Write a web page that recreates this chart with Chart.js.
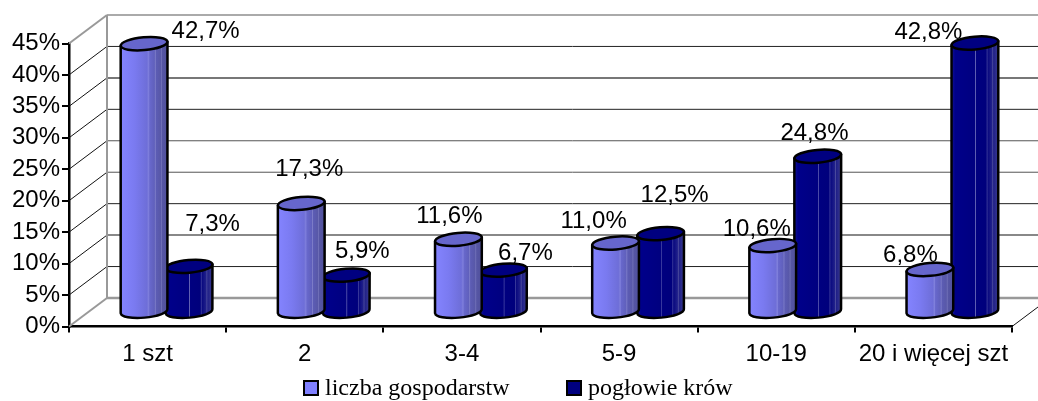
<!DOCTYPE html>
<html lang="pl">
<head>
<meta charset="utf-8">
<title>Gospodarstwa i pogłowie krów</title>
<script src="https://cdn.jsdelivr.net/npm/chart.js@4"></script>
<style>
  html, body { margin: 0; padding: 0; background: #fff; }
  canvas { display: block; }
</style>
</head>
<body>
<canvas id="chart" width="1038" height="401"></canvas>
<script>
// ── Data ──────────────────────────────────────────────────
const categories = ['1 szt', '2', '3-4', '5-9', '10-19', '20 i więcej szt'];
const gospodarstwa = [42.7, 17.3, 11.6, 11.0, 10.6, 6.8];
const krowy = [7.3, 5.9, 6.7, 12.5, 24.8, 42.8];
const seriesNames = ['liczba gospodarstw', 'pogłowie krów'];

// hand placed labels in the original, [dx, dy] from the top of each bar
const labelShift = [
  [[61.5, -13.7], [8, -35.4], [-9, -24.3], [-22, -23], [-16, -17.6], [-19.5, -15.5]],
  [[23.5, -43.3], [16, -25], [22, -17.4], [14, -39.6], [-3.3, -23.6], [-46.5, -11.3]]
];

// ── Style ─────────────────────────────────────────────────
const DEPTH_X = 38;
const DEPTH_Y = -28.5;
const TILT = -5 * Math.PI / 180;
const CAP_B = 6.4;
const SANS = '"Liberation Sans", Arial, sans-serif';
const SERIF = '"Liberation Serif", "Times New Roman", serif';

// wall line per tick, 0% upward
const wallColors = ['#999', '#222', '#888', '#222', '#555', '#555', '#222', '#777', '#222', '#aaa'];
const wallWidths = [2.5, 1, 2, 1, 1, 1, 1, 2, 1, 2];

const seriesLook = [
  {
    fill: '#8080ff',
    cap: '#6666cc',
    stops: [[0, '#8484ff'], [.3, '#7a7af0'], [.56, '#6e6ed8'], [.6, '#8080dc'], [.62, '#6868cc'],
            [.72, '#6060bc'], [.74, '#7c7cc8'], [.76, '#5c5cb4'], [.85, '#5858a8'], [.87, '#7070b8'],
            [.89, '#5656a4'], [1, '#50509c']]
  },
  {
    fill: '#000080',
    cap: '#000080',
    stops: [[0, '#141492'], [.08, '#00008a'], [.5, '#000080'], [.51, '#6a6ab8'], [.53, '#000080'],
            [.74, '#00007c'], [.76, '#3a3a9a'], [.78, '#0a0a80'], [.86, '#20208a'], [.88, '#4a4a9c'],
            [.9, '#202088'], [1, '#3c3c90']]
  }
];

// ── Plugins ───────────────────────────────────────────────
// back wall and side wall, placed from the y scale ticks
const wallsPlugin = {
  id: 'walls',
  beforeDatasetsDraw(chart) {
    const { ctx, chartArea: a, scales: { y } } = chart;
    ctx.save();
    y.ticks.forEach((t, i) => {
      const py = y.getPixelForValue(t.value);
      ctx.beginPath();
      ctx.lineWidth = wallWidths[i];
      ctx.strokeStyle = wallColors[i];
      ctx.moveTo(a.left + DEPTH_X, py + DEPTH_Y);
      ctx.lineTo(chart.width, py + DEPTH_Y);
      ctx.stroke();

      // diagonal on the side wall, grey on the floor and ceiling edges
      const edge = i === 0 || i === y.ticks.length - 1;
      ctx.beginPath();
      ctx.lineWidth = edge ? 2 : 1;
      ctx.strokeStyle = edge ? '#999' : '#111';
      ctx.moveTo(a.left, py);
      ctx.lineTo(a.left + DEPTH_X, py + DEPTH_Y);
      ctx.stroke();
    });

    ctx.beginPath();
    ctx.lineWidth = 2;
    ctx.strokeStyle = '#999';
    ctx.moveTo(a.left + DEPTH_X, a.top + DEPTH_Y);
    ctx.lineTo(a.left + DEPTH_X, a.bottom + DEPTH_Y);
    ctx.stroke();

    ctx.beginPath();
    ctx.lineWidth = 1;
    ctx.strokeStyle = '#111';
    ctx.moveTo(a.right, a.bottom);
    ctx.lineTo(a.right + DEPTH_X, a.bottom + DEPTH_Y);
    ctx.stroke();
    ctx.restore();
  }
};

function drawCylinder(ctx, bar, look) {
  const cx = bar.x + DEPTH_X / 2;
  const half = bar.width / 2;
  const top = bar.y + DEPTH_Y / 2;
  const base = bar.base + DEPTH_Y / 2;
  const dy = half * Math.sin(TILT);

  const grad = ctx.createLinearGradient(cx - half, 0, cx + half, 0);
  look.stops.forEach(s => grad.addColorStop(s[0], s[1]));

  ctx.beginPath();
  ctx.moveTo(cx - half, top - dy);
  ctx.lineTo(cx - half, base - dy);
  ctx.ellipse(cx, base, half, CAP_B, TILT, Math.PI, 0, true);
  ctx.lineTo(cx + half, top + dy);
  ctx.closePath();
  ctx.fillStyle = grad;
  ctx.fill();
  ctx.stroke();

  ctx.beginPath();
  ctx.ellipse(cx, top, half, CAP_B, TILT, 0, Math.PI * 2);
  ctx.fillStyle = look.cap;
  ctx.fill();
  ctx.stroke();
}

// replaces the flat bars with cylinders, geometry comes from the bar elements
const cylinderPlugin = {
  id: 'cylinders',
  beforeDatasetDraw(chart, args) {
    const { ctx } = chart;
    ctx.save();
    ctx.lineWidth = 2.5;
    ctx.strokeStyle = '#000';
    ctx.lineJoin = 'round';
    args.meta.data.forEach(bar => drawCylinder(ctx, bar, seriesLook[args.index]));
    ctx.restore();
    return false;
  },
  afterDatasetsDraw(chart) {
    const { ctx } = chart;
    ctx.save();
    ctx.font = '24px ' + SANS;
    ctx.fillStyle = '#000';
    ctx.textAlign = 'center';
    ctx.textBaseline = 'middle';
    chart.data.datasets.forEach((ds, d) => {
      chart.getDatasetMeta(d).data.forEach((bar, i) => {
        const s = labelShift[d][i];
        const txt = ds.data[i].toFixed(1).replace('.', ',') + '%';
        ctx.fillText(txt, bar.x + DEPTH_X / 2 + s[0], bar.y + DEPTH_Y / 2 + s[1] + 1);
      });
    });
    ctx.restore();
  }
};

// legend row: the built-in one can't get the box this close to the text
const legendRowPlugin = {
  id: 'legendRow',
  afterDraw(chart) {
    const { ctx } = chart;
    const boxX = [304, 567];
    ctx.save();
    ctx.font = '24px ' + SERIF;
    ctx.textBaseline = 'middle';
    chart.data.datasets.forEach((ds, d) => {
      ctx.fillStyle = ds.backgroundColor;
      ctx.strokeStyle = '#000';
      ctx.lineWidth = 2;
      ctx.fillRect(boxX[d], 381, 14, 14);
      ctx.strokeRect(boxX[d], 381, 14, 14);
      ctx.fillStyle = '#000';
      ctx.fillText(ds.label, boxX[d] + 21, 389);
    });
    ctx.restore();
  }
};

// ── Chart ─────────────────────────────────────────────────
function fixAxis(size) {
  return scale => {
    if (scale.axis === 'y') scale.width = size; else scale.height = size;
    scale.paddingTop = scale.paddingBottom = scale.paddingLeft = scale.paddingRight = 0;
  };
}

new Chart(document.getElementById('chart'), {
  type: 'bar',
  data: {
    labels: categories,
    datasets: [
      { label: seriesNames[0], data: gospodarstwa, backgroundColor: seriesLook[0].fill },
      { label: seriesNames[1], data: krowy, backgroundColor: seriesLook[1].fill }
    ]
  },
  plugins: [wallsPlugin, cylinderPlugin, legendRowPlugin],
  options: {
    responsive: false,
    animation: false,
    events: [],
    layout: { padding: { top: 43.5, right: 26, bottom: 29.5, left: 0 } },
    datasets: { bar: { categoryPercentage: 0.5725, barPercentage: 1.04 } },
    plugins: { legend: { display: false }, tooltip: { enabled: false } },
    scales: {
      x: {
        afterFit: fixAxis(45),
        grid: { offset: true, drawOnChartArea: false, color: '#000', lineWidth: 2, tickLength: 6 },
        border: { color: '#000', width: 2.5 },
        ticks: { color: '#000', font: { family: SANS, size: 24 }, padding: 7, maxRotation: 0, autoSkip: false }
      },
      y: {
        min: 0,
        max: 45,
        afterFit: fixAxis(69),
        grid: { drawOnChartArea: false, color: '#000', lineWidth: 2, tickLength: 7 },
        border: { color: '#000', width: 2.5 },
        ticks: {
          stepSize: 5,
          autoSkip: false,
          color: '#000',
          font: { family: SANS, size: 24 },
          padding: 2,
          callback: v => v + '%'
        }
      }
    }
  }
});
</script>
</body>
</html>
